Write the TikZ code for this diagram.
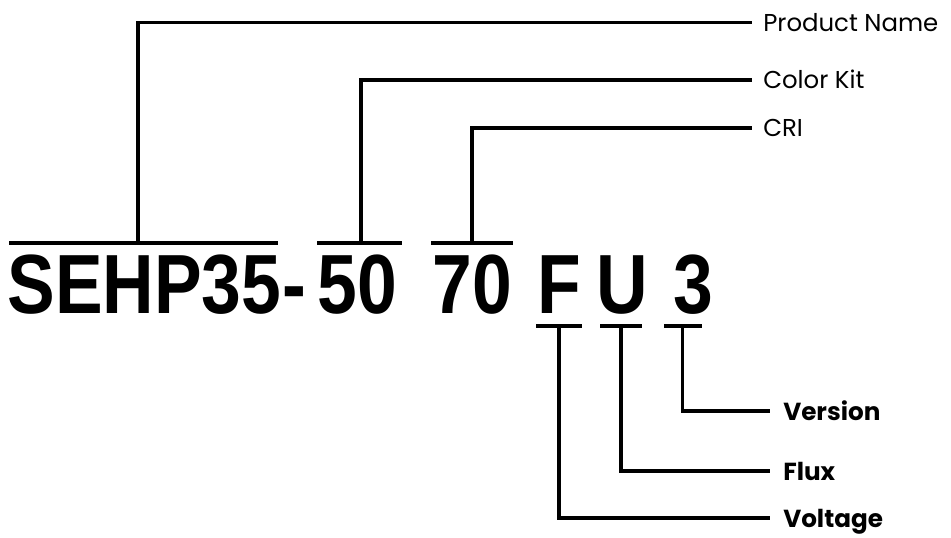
\documentclass[tikz,border=0pt]{standalone}
\usepackage{fontspec}
\newfontfamily\codefont{Liberation Sans}[FakeStretch=0.85]
\newfontfamily\labfont{Poppins}
\tikzset{
  seg/.style={inner sep=0pt, anchor=base, font=\codefont\bfseries\fontsize{63}{63}\selectfont},
  toplab/.style={anchor=west, inner xsep=8.25pt, inner ysep=0pt, text height=13.5pt, text depth=0.5pt, font=\labfont\fontsize{18.3}{18.3}\selectfont},
  botlab/.style={anchor=west, inner xsep=9.75pt, inner ysep=0pt, text height=14pt, text depth=0.5pt, font=\labfont\bfseries\fontsize{18.5}{18.5}\selectfont},
  wire/.style={line width=2.3pt}
}
\begin{document}
\begin{tikzpicture}[x=0.75pt,y=-0.75pt]
\useasboundingbox (0,0) rectangle (951,537);
% part number
\node[seg] (name) at (144.5,313) {SEHP35};
\node[seg] (hyph) at (294,313) {-};
\node[seg] (kit) at (357.5,313) {50};
\node[seg] (cri) at (472.5,313) {70};
\node[seg] (volt) at (559,313) {F};
\node[seg] (flux) at (622.5,313) {U};
\node[seg] (ver) at (693,313) {3};
% bars over and under the fields
\draw[wire] (9,243) -- (278,243);
\draw[wire] (317,243) -- (402,243);
\draw[wire] (431,243) -- (513,243);
\draw[wire] (536,326) -- (582,326);
\draw[wire] (600,326) -- (642,326);
\draw[wire] (664,326) -- (702,326);
\coordinate (nameBar) at (138,243);
\coordinate (kitBar) at (361,243);
\coordinate (criBar) at (472,243);
\coordinate (voltBar) at (559,326);
\coordinate (fluxBar) at (621,326);
\coordinate (verBar) at (682.5,326);
% labels
\node[toplab] (lname) at (752,22.7) {Product Name};
\node[toplab] (lkit) at (752,80) {Color Kit};
\node[toplab] (lcri) at (752,128) {CRI};
\node[botlab] (lver) at (770,411) {Version};
\node[botlab] (lflux) at (770,471) {Flux};
\node[botlab] (lvolt) at (770,518) {Voltage};
% connecting lines
\draw[wire] (nameBar) |- (lname.west);
\draw[wire] (kitBar) |- (lkit.west);
\draw[wire] (criBar) |- (lcri.west);
\draw[wire] (verBar) |- (lver.west);
\draw[wire] (fluxBar) |- (lflux.west);
\draw[wire] (voltBar) |- (lvolt.west);
\end{tikzpicture}
\end{document}
